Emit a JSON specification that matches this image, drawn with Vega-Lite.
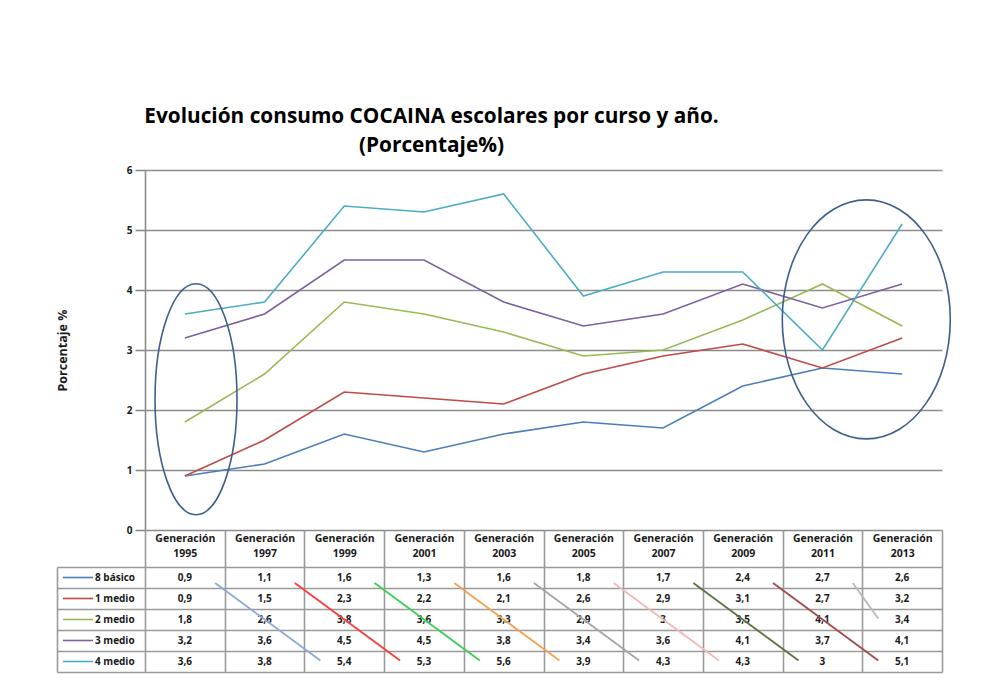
{
  "$schema": "https://vega.github.io/schema/vega-lite/v6.json",
  "width": 797,
  "height": 360,
  "autosize": {"type": "none"},
  "padding": {"left": 145, "top": 170, "right": 40, "bottom": 164},
  "title": {
    "text": ["Evolución consumo COCAINA escolares por curso y año.", "(Porcentaje%)"],
    "anchor": "middle",
    "frame": "group",
    "dx": -112,
    "offset": 8,
    "font": "Open Sans",
    "fontSize": 20.8,
    "fontWeight": "bold",
    "lineHeight": 29,
    "color": "#000000"
  },
  "config": {
    "view": {"stroke": null},
    "font": "Open Sans",
    "locale": {"number": {"decimal": ",", "thousands": ".", "grouping": [3], "currency": ["", " €"]}},
    "axis": {
      "labelFont": "Open Sans",
      "labelFontWeight": "bold",
      "labelFontSize": 10,
      "labelColor": "#1a1a1a",
      "titleFont": "Open Sans",
      "titleColor": "#1a1a1a"
    }
  },
  "data": {
    "values": [
      {"g": "Generación 1995", "c": "8 básico", "v": 0.9},
      {"g": "Generación 1997", "c": "8 básico", "v": 1.1},
      {"g": "Generación 1999", "c": "8 básico", "v": 1.6},
      {"g": "Generación 2001", "c": "8 básico", "v": 1.3},
      {"g": "Generación 2003", "c": "8 básico", "v": 1.6},
      {"g": "Generación 2005", "c": "8 básico", "v": 1.8},
      {"g": "Generación 2007", "c": "8 básico", "v": 1.7},
      {"g": "Generación 2009", "c": "8 básico", "v": 2.4},
      {"g": "Generación 2011", "c": "8 básico", "v": 2.7},
      {"g": "Generación 2013", "c": "8 básico", "v": 2.6},
      {"g": "Generación 1995", "c": "1 medio", "v": 0.9},
      {"g": "Generación 1997", "c": "1 medio", "v": 1.5},
      {"g": "Generación 1999", "c": "1 medio", "v": 2.3},
      {"g": "Generación 2001", "c": "1 medio", "v": 2.2},
      {"g": "Generación 2003", "c": "1 medio", "v": 2.1},
      {"g": "Generación 2005", "c": "1 medio", "v": 2.6},
      {"g": "Generación 2007", "c": "1 medio", "v": 2.9},
      {"g": "Generación 2009", "c": "1 medio", "v": 3.1},
      {"g": "Generación 2011", "c": "1 medio", "v": 2.7},
      {"g": "Generación 2013", "c": "1 medio", "v": 3.2},
      {"g": "Generación 1995", "c": "2 medio", "v": 1.8},
      {"g": "Generación 1997", "c": "2 medio", "v": 2.6},
      {"g": "Generación 1999", "c": "2 medio", "v": 3.8},
      {"g": "Generación 2001", "c": "2 medio", "v": 3.6},
      {"g": "Generación 2003", "c": "2 medio", "v": 3.3},
      {"g": "Generación 2005", "c": "2 medio", "v": 2.9},
      {"g": "Generación 2007", "c": "2 medio", "v": 3.0},
      {"g": "Generación 2009", "c": "2 medio", "v": 3.5},
      {"g": "Generación 2011", "c": "2 medio", "v": 4.1},
      {"g": "Generación 2013", "c": "2 medio", "v": 3.4},
      {"g": "Generación 1995", "c": "3 medio", "v": 3.2},
      {"g": "Generación 1997", "c": "3 medio", "v": 3.6},
      {"g": "Generación 1999", "c": "3 medio", "v": 4.5},
      {"g": "Generación 2001", "c": "3 medio", "v": 4.5},
      {"g": "Generación 2003", "c": "3 medio", "v": 3.8},
      {"g": "Generación 2005", "c": "3 medio", "v": 3.4},
      {"g": "Generación 2007", "c": "3 medio", "v": 3.6},
      {"g": "Generación 2009", "c": "3 medio", "v": 4.1},
      {"g": "Generación 2011", "c": "3 medio", "v": 3.7},
      {"g": "Generación 2013", "c": "3 medio", "v": 4.1},
      {"g": "Generación 1995", "c": "4 medio", "v": 3.6},
      {"g": "Generación 1997", "c": "4 medio", "v": 3.8},
      {"g": "Generación 1999", "c": "4 medio", "v": 5.4},
      {"g": "Generación 2001", "c": "4 medio", "v": 5.3},
      {"g": "Generación 2003", "c": "4 medio", "v": 5.6},
      {"g": "Generación 2005", "c": "4 medio", "v": 3.9},
      {"g": "Generación 2007", "c": "4 medio", "v": 4.3},
      {"g": "Generación 2009", "c": "4 medio", "v": 4.3},
      {"g": "Generación 2011", "c": "4 medio", "v": 3.0},
      {"g": "Generación 2013", "c": "4 medio", "v": 5.1}
    ]
  },
  "layer": [
    {
      "layer": [
        {
          "mark": {"type": "line", "strokeWidth": 1.6},
          "encoding": {
            "x": {
              "field": "g",
              "type": "nominal",
              "scale": {
                "domain": ["Generación 1995", "Generación 1997", "Generación 1999", "Generación 2001", "Generación 2003", "Generación 2005", "Generación 2007", "Generación 2009", "Generación 2011", "Generación 2013"],
                "paddingInner": 0,
                "paddingOuter": 0
              },
              "axis": {
                "orient": "bottom",
                "title": null,
                "domain": false,
                "grid": false,
                "tickBand": "extent",
                "tickSize": 142,
                "tickColor": "#9a9a9a",
                "tickWidth": 1.6,
                "labelAngle": 0,
                "labelOverlap": false,
                "labelBound": false,
                "labelExpr": "split(datum.label, ' ')",
                "labelBaseline": "top",
                "labelLineHeight": 15,
                "labelPadding": -139,
                "labelFontSize": 10.5
              }
            },
            "y": {
              "field": "v",
              "type": "quantitative",
              "scale": {"domain": [0, 6], "nice": false, "zero": true},
              "axis": {
                "values": [0, 1, 2, 3, 4, 5, 6],
                "format": "d",
                "title": "Porcentaje %",
                "titleFontSize": 12.5,
                "titleFontWeight": "bold",
                "titlePadding": 57,
                "grid": true,
                "gridColor": "#8c8c8c",
                "gridWidth": 1.6,
                "domainColor": "#8c8c8c",
                "domainWidth": 1.6,
                "tickColor": "#8c8c8c",
                "tickWidth": 1.6,
                "tickSize": 10,
                "labelPadding": 3
              }
            },
            "color": {
              "field": "c",
              "type": "nominal",
              "scale": {
                "domain": ["8 básico", "1 medio", "2 medio", "3 medio", "4 medio"],
                "range": ["#4a7ebb", "#be4b48", "#98b954", "#7d60a0", "#4bacc6"]
              },
              "legend": {
                "title": null,
                "orient": "none",
                "legendX": -83,
                "legendY": 397,
                "direction": "vertical",
                "symbolType": "stroke",
                "symbolSize": 900,
                "symbolStrokeWidth": 1.6,
                "clipHeight": 21,
                "rowPadding": 0,
                "padding": 0,
                "labelOffset": 1,
                "labelFont": "Open Sans",
                "labelFontSize": 10,
                "labelFontWeight": "bold",
                "labelColor": "#1a1a1a"
              }
            }
          }
        },
        {
          "data": {"values": [{"g": "Generación 1995", "v": 2.18}]},
          "mark": {
            "type": "point",
            "shape": "M0,-1C0.196,-1,0.355,-0.552,0.355,0C0.355,0.552,0.196,1,0,1C-0.196,1,-0.355,0.552,-0.355,0C-0.355,-0.552,-0.196,-1,0,-1Z",
            "size": 53361,
            "filled": false,
            "stroke": "#3d5f8c",
            "strokeWidth": 1.6,
            "opacity": 1
          },
          "encoding": {
            "x": {"field": "g", "type": "nominal", "bandPosition": 0.64},
            "y": {"field": "v", "type": "quantitative"}
          }
        },
        {
          "data": {"values": [{"g": "Generación 2013", "v": 3.51}]},
          "mark": {
            "type": "point",
            "shape": "M0,-1C0.388,-1,0.703,-0.552,0.703,0C0.703,0.552,0.388,1,0,1C-0.388,1,-0.703,0.552,-0.703,0C-0.703,-0.552,-0.388,-1,0,-1Z",
            "size": 57121,
            "filled": false,
            "stroke": "#3d5f8c",
            "strokeWidth": 1.6,
            "opacity": 1
          },
          "encoding": {
            "x": {"field": "g", "type": "nominal", "bandPosition": 0.05},
            "y": {"field": "v", "type": "quantitative"}
          }
        }
      ]
    },
    {
      "layer": [
        {
          "mark": {"type": "text", "font": "Open Sans", "fontSize": 10, "fontWeight": "bold", "color": "#1a1a1a", "align": "center", "baseline": "middle"},
          "encoding": {
            "x": {"field": "g", "type": "nominal"},
            "y": {
              "field": "c",
              "type": "nominal",
              "scale": {
                "domain": ["8 básico", "1 medio", "2 medio", "3 medio", "4 medio"],
                "range": [397, 502],
                "paddingInner": 0,
                "paddingOuter": 0
              },
              "axis": {
                "orient": "left",
                "offset": 88,
                "title": null,
                "labels": false,
                "tickBand": "extent",
                "tickSize": -88,
                "tickColor": "#9a9a9a",
                "tickWidth": 1.6,
                "grid": true,
                "gridColor": "#9a9a9a",
                "gridWidth": 1.6,
                "domain": true,
                "domainColor": "#9a9a9a",
                "domainWidth": 1.6
              }
            },
            "text": {"field": "v", "type": "quantitative", "format": ".1~f"}
          }
        },
        {
          "data": {
            "values": [
              {"c1": "Generación 1995", "c2": "Generación 1999", "r1": "8 básico", "r2": "4 medio", "k": "a"},
              {"c1": "Generación 1997", "c2": "Generación 2001", "r1": "8 básico", "r2": "4 medio", "k": "b"},
              {"c1": "Generación 1999", "c2": "Generación 2003", "r1": "8 básico", "r2": "4 medio", "k": "c"},
              {"c1": "Generación 2001", "c2": "Generación 2005", "r1": "8 básico", "r2": "4 medio", "k": "d"},
              {"c1": "Generación 2003", "c2": "Generación 2007", "r1": "8 básico", "r2": "4 medio", "k": "e"},
              {"c1": "Generación 2005", "c2": "Generación 2009", "r1": "8 básico", "r2": "4 medio", "k": "f"},
              {"c1": "Generación 2007", "c2": "Generación 2011", "r1": "8 básico", "r2": "4 medio", "k": "g"},
              {"c1": "Generación 2009", "c2": "Generación 2013", "r1": "8 básico", "r2": "4 medio", "k": "h"},
              {"c1": "Generación 2011", "c2": "Generación 2013", "r1": "8 básico", "r2": "2 medio", "k": "i"}
            ]
          },
          "mark": {"type": "rule", "strokeWidth": 1.8},
          "encoding": {
            "x": {"field": "c1", "type": "nominal", "bandPosition": 0.88},
            "x2": {"field": "c2", "bandPosition": 0.2},
            "y": {
              "field": "r1",
              "type": "nominal",
              "bandPosition": 0.76,
              "scale": {
                "domain": ["8 básico", "1 medio", "2 medio", "3 medio", "4 medio"],
                "range": [397, 502],
                "paddingInner": 0,
                "paddingOuter": 0
              }
            },
            "y2": {"field": "r2", "bandPosition": 0.45},
            "stroke": {
              "field": "k",
              "type": "nominal",
              "scale": {
                "domain": ["a", "b", "c", "d", "e", "f", "g", "h", "i"],
                "range": ["#8eaadb", "#ff3b3b", "#3ccf55", "#f4a24e", "#a6a6a6", "#f2b9b9", "#5b7340", "#a34a4a", "#b8b8b8"]
              },
              "legend": null
            }
          }
        }
      ]
    }
  ],
  "resolve": {"scale": {"y": "independent"}, "axis": {"y": "independent"}}
}
